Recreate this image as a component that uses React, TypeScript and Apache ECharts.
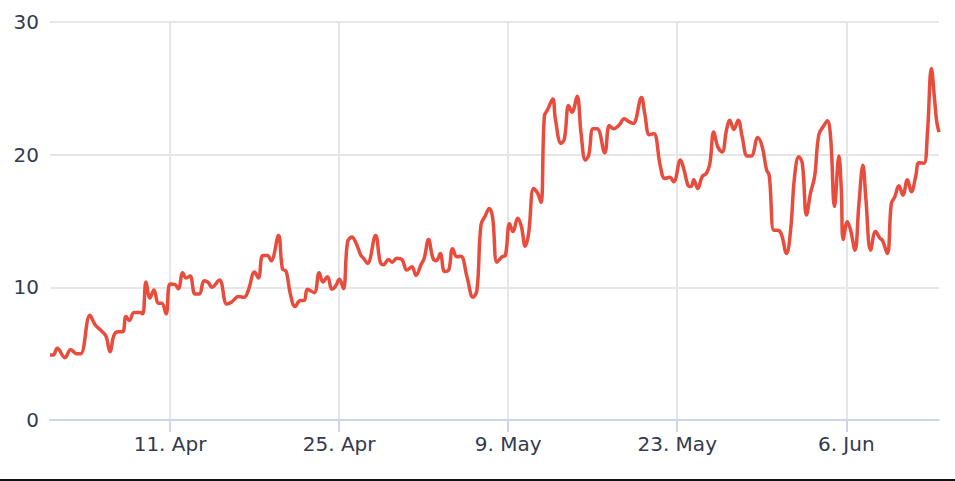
import React, { useEffect, useRef } from 'react'
import * as echarts from 'echarts'

// days since 1 Apr (UTC), with the matching values
const startDate = Date.UTC(2020, 3, 1)
const dayOffsets = [
  0.06, 0.33, 0.66, 1.3, 1.77, 2.27, 2.6, 3.37, 3.78, 4.34, 4.7, 5.03, 5.36, 5.72, 6.08, 6.35, 6.63, 7.02, 7.51, 7.74,
  8.01, 8.34, 8.67, 9.03, 9.31, 9.67, 10.0, 10.42, 10.69, 11.05, 11.33, 11.66, 12.07, 12.43, 12.82, 13.18, 13.46, 14.09, 14.7, 15.11,
  15.66, 16.13, 16.49, 17.0, 17.32, 17.68, 18.07, 18.37, 18.98, 19.31, 19.62, 19.95, 20.36, 20.78, 21.11, 21.38, 21.94, 22.35, 22.66, 23.04,
  23.4, 23.68, 24.03, 24.36, 24.7, 25.06, 25.42, 25.81, 26.02, 26.35, 27.02, 27.41, 27.68, 28.09, 28.38, 28.79, 29.2, 29.62, 30.03, 30.37,
  30.78, 31.05, 31.41, 31.77, 32.05, 32.38, 32.73, 33.07, 33.4, 33.76, 34.09, 34.59, 35.09, 35.42, 35.75, 36.11, 36.44, 36.71, 37.08, 37.49,
  37.77, 38.12, 38.4, 38.79, 39.09, 39.42, 39.7, 40.11, 40.44, 40.72, 41.0, 41.27, 41.69, 41.91, 42.38, 42.66, 43.01, 43.29, 43.71, 44.04,
  44.4, 44.67, 45.03, 45.37, 46.0, 46.38, 46.74, 47.16, 47.63, 47.98, 48.35, 49.04, 49.31, 49.7, 50.06, 50.61, 50.97, 51.38, 51.71, 52.27,
  52.58, 52.89, 53.16, 53.37, 53.7, 54.07, 54.42, 54.7, 55.03, 55.36, 55.72, 56.08, 56.35, 56.69, 57.05, 57.38, 57.8, 58.13, 58.68, 59.04,
  59.4, 59.62, 60.0, 60.28, 60.61, 61.05, 61.39, 61.72, 62.07, 62.36, 62.71, 63.04, 63.38, 63.73, 64.15, 64.43, 64.7, 65.03, 65.39, 65.59,
  65.75, 66.09, 66.36, 66.72, 67.05, 67.38, 67.63, 68.02, 68.43, 68.79, 68.99, 69.4, 69.73, 70.01, 70.36, 70.69, 71.06, 71.39, 71.75, 72.02,
  72.43, 72.72, 73.05, 73.32, 73.49, 73.68
]
const values = [
  4.9, 4.9, 5.4, 4.7, 5.3, 5.0, 5.0, 7.9, 7.2, 6.7, 6.3, 5.15, 6.4, 6.65, 6.65, 7.8, 7.5, 8.1, 8.1, 8.0,
  10.4, 9.2, 9.8, 8.8, 8.8, 8.0, 10.25, 10.2, 9.9, 11.1, 10.7, 10.85, 9.5, 9.5, 10.5, 10.35, 10.0, 10.55, 8.75, 8.9,
  9.3, 9.25, 9.8, 11.15, 10.7, 12.4, 12.4, 12.0, 13.9, 11.4, 11.2, 9.55, 8.55, 9.0, 9.0, 9.85, 9.6, 11.1, 10.4, 10.8,
  9.85, 10.05, 10.6, 9.9, 13.4, 13.8, 13.3, 12.4, 12.2, 11.8, 13.9, 11.9, 11.7, 12.1, 11.9, 12.2, 12.1, 11.3, 11.55, 10.9,
  11.7, 12.2, 13.6, 12.2, 12.0, 12.55, 11.2, 11.3, 12.9, 12.3, 12.35, 10.8, 9.25, 9.8, 14.7, 15.4, 15.95, 15.3, 11.9, 12.3,
  12.4, 14.8, 14.2, 15.2, 14.6, 13.1, 14.1, 17.45, 17.1, 16.4, 22.9, 23.4, 24.2, 22.7, 20.85, 21.2, 23.7, 23.2, 24.4, 21.6,
  19.6, 19.95, 21.95, 21.95, 20.15, 22.2, 21.95, 22.2, 22.7, 22.5, 22.35, 24.3, 23.1, 21.5, 21.6, 19.1, 18.2, 18.3, 17.95, 19.6,
  18.8, 17.7, 17.6, 18.1, 17.45, 18.35, 18.6, 19.3, 21.7, 20.6, 20.2, 21.85, 22.6, 21.9, 22.6, 21.35, 19.9, 19.9, 21.3, 20.6,
  18.85, 18.45, 14.3, 14.3, 14.05, 12.55, 14.3, 18.35, 19.85, 19.35, 15.45, 17.1, 18.35, 21.5, 22.2, 22.55, 21.35, 16.1, 19.9, 17.35,
  13.6, 14.95, 14.3, 12.8, 16.3, 19.2, 16.6, 12.8, 14.2, 13.7, 13.55, 12.55, 16.3, 16.8, 17.65, 16.95, 18.1, 17.2, 18.35, 19.4,
  19.35, 21.6, 26.5, 24.1, 22.5, 21.7
]
const tickDates = ['2020-04-11', '2020-04-25', '2020-05-09', '2020-05-23', '2020-06-06']
const monthNames = ['Jan', 'Feb', 'Mar', 'Apr', 'May', 'Jun', 'Jul', 'Aug', 'Sep', 'Oct', 'Nov', 'Dec']

const DAY = 24 * 3600 * 1000

const App: React.FC = () => {
  const chartRef = useRef<HTMLDivElement>(null)

  useEffect(() => {
    if (!chartRef.current) return
    const chart = echarts.init(chartRef.current, undefined, { renderer: 'svg' })

    const seriesData = dayOffsets.map((d, i) => [startDate + d * DAY, values[i]])
    const tickValues = tickDates.map(s => Date.parse(s + 'T00:00:00Z'))
    const fontFamily = '"DejaVu Sans", Verdana, sans-serif'

    const option = {
      animation: false,
      grid: { left: 50, right: 16, top: 22, bottom: 61, containLabel: false },
      xAxis: {
        type: 'value',
        min: 'dataMin',
        max: 'dataMax',
        axisLine: { show: true, lineStyle: { color: '#ccd6eb', width: 2 } },
        axisTick: { show: true, length: 12, customValues: tickValues, lineStyle: { color: '#ccd6eb', width: 2 } },
        axisLabel: {
          customValues: tickValues,
          margin: 14,
          color: '#333a4d',
          fontSize: 20,
          fontFamily,
          formatter: (v: number) => {
            const d = new Date(v)
            return `${d.getUTCDate()}. ${monthNames[d.getUTCMonth()]}`
          }
        },
        splitLine: { show: true, lineStyle: { color: '#e6e6e6', width: 2 } }
      },
      yAxis: {
        type: 'value',
        min: 0,
        max: 30,
        interval: 10,
        axisLine: { show: false },
        axisTick: { show: false },
        axisLabel: { margin: 11, color: '#333a4d', fontSize: 20, fontFamily },
        splitLine: { lineStyle: { color: '#e6e6e6', width: 2 } }
      },
      series: [
        {
          type: 'line',
          data: seriesData,
          smooth: 0.4,
          showSymbol: false,
          symbol: 'none',
          lineStyle: { color: '#e84c3d', width: 3.5 },
          itemStyle: { color: '#e84c3d' }
        }
      ]
    }

    chart.setOption(option)
    return () => {
      chart.dispose()
    }
  }, [])

  return (
    <div style={{ position: 'absolute', left: 0, top: 0, width: 955, height: 481, background: '#fff' }}>
      <div ref={chartRef} style={{ width: 955, height: 481 }} />
      <div style={{ position: 'absolute', left: 0, top: 479, width: 955, height: 2, background: '#111' }} />
    </div>
  )
}

export default App
